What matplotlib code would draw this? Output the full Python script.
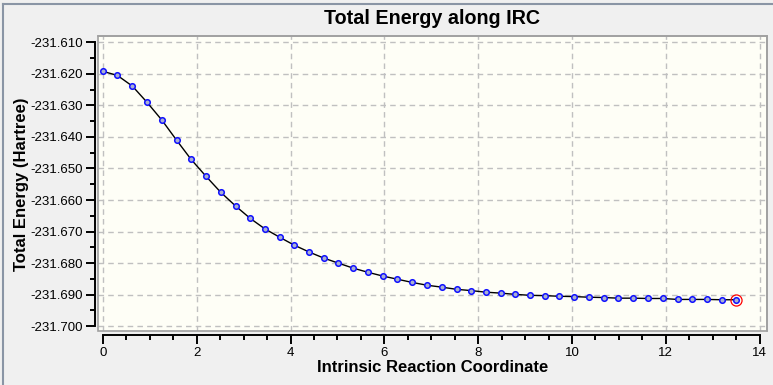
import matplotlib
matplotlib.use("Agg")
import matplotlib.pyplot as plt
from matplotlib.ticker import MultipleLocator, FormatStrFormatter
from matplotlib.patches import Rectangle
from matplotlib.lines import Line2D

plt.rcParams['font.family'] = ['Liberation Sans', 'DejaVu Sans']

# IRC points
irc_x = [0.00, 0.31, 0.63, 0.94, 1.26, 1.57, 1.88, 2.20, 2.51, 2.83,
         3.14, 3.45, 3.77, 4.08, 4.40, 4.71, 5.02, 5.34, 5.65, 5.97,
         6.28, 6.59, 6.91, 7.22, 7.54, 7.85, 8.16, 8.48, 8.79, 9.11,
         9.42, 9.73, 10.05, 10.36, 10.68, 10.99, 11.30, 11.62, 11.93, 12.25,
         12.56, 12.87, 13.19, 13.50]
energy = [-231.6192, -231.6205, -231.6239, -231.6290, -231.6347, -231.6410,
          -231.6471, -231.6525, -231.6575, -231.6619, -231.6658, -231.6691,
          -231.6718, -231.6743, -231.6765, -231.6784, -231.6800, -231.6816,
          -231.6829, -231.6841, -231.6851, -231.6861, -231.6870, -231.6876,
          -231.6883, -231.6887, -231.6892, -231.6895, -231.6899, -231.6902,
          -231.6903, -231.6905, -231.6906, -231.6908, -231.6909, -231.6911,
          -231.6911, -231.6912, -231.6912, -231.6915, -231.6915, -231.6915,
          -231.6916, -231.6916]

fig = plt.figure(figsize=(7.73, 3.85), dpi=100, facecolor='#f0f0f0')
ax = fig.add_axes([0.1264, 0.1395, 0.8654, 0.7662])
ax.set_facecolor('#fefef6')

ax.plot(irc_x, energy, color='black', lw=1.0, zorder=3)
ax.plot(irc_x, energy, ls='none', marker='o', ms=4, mfc='#a9b0d0', mec='#1010ff',
        mew=1.1, zorder=4)
# current point
ax.plot(irc_x[-1], energy[-1], ls='none', marker='o', ms=8, mfc='none', mec='red',
        mew=0.9, zorder=5)

ax.set_xlim(-0.11, 14.15)
ax.set_ylim(-231.7016, -231.6081)

ax.xaxis.set_major_locator(MultipleLocator(2))
ax.xaxis.set_minor_locator(MultipleLocator(0.5))
ax.yaxis.set_major_locator(MultipleLocator(0.01))
ax.yaxis.set_minor_locator(MultipleLocator(0.005))
ax.yaxis.set_major_formatter(FormatStrFormatter('%.3f'))

ax.grid(True, which='major', color='#c0c0c0', ls=(0, (4, 3)), lw=1.0, zorder=1)

for s in ['top', 'right']:
    ax.spines[s].set_color('#a0a0a0')
    ax.spines[s].set_linewidth(1.2)
ax.spines['left'].set_position(('outward', 2.2))
ax.spines['bottom'].set_position(('outward', 2.7))
ax.spines['left'].set_bounds(-231.700, -231.610)
ax.spines['bottom'].set_bounds(0, 14)
ax.spines['left'].set_linewidth(1.4)
ax.spines['bottom'].set_linewidth(1.4)

# gray frame of the plot area
ax.add_patch(Rectangle((0, 0), 1, 1, transform=ax.transAxes, fill=False,
                       ec='#a0a0a0', lw=1.2, clip_on=False, zorder=6))

ax.tick_params(which='major', length=6.5, width=1.4, labelsize=9.5, pad=2)
ax.tick_params(which='minor', length=3.5, width=1.4)

ax.set_title('Total Energy along IRC', fontsize=14.2, fontweight='bold', pad=9)
ax.set_xlabel('Intrinsic Reaction Coordinate', fontsize=12, fontweight='bold', labelpad=1)
ax.set_ylabel('Total Energy (Hartree)', fontsize=12, fontweight='bold', labelpad=1)

# window border
fig.add_artist(Line2D([3.5 / 773, 3.5 / 773], [0, 1 - 3.5 / 385], color='#8a95a5', lw=1.5))
fig.add_artist(Line2D([3.5 / 773, 1], [1 - 3.5 / 385, 1 - 3.5 / 385], color='#8a95a5', lw=1.5))

fig.savefig('out.png', dpi=100, facecolor=fig.get_facecolor())
